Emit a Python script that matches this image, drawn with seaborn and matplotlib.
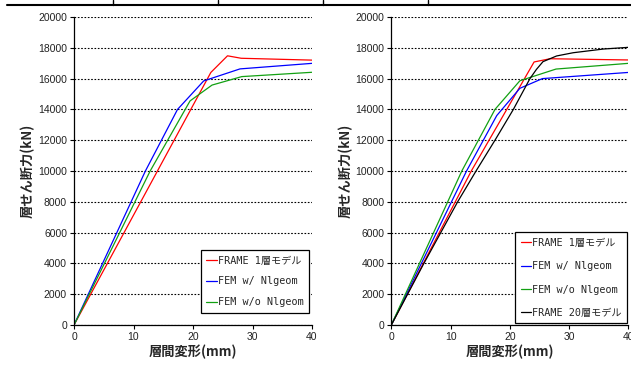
import pandas as pd
import matplotlib.pyplot as plt
import seaborn as sns
from matplotlib.lines import Line2D

# left panel
left_frame1_x = [0, 23.0, 25.8, 28.1, 40]
left_frame1_y = [0, 16400, 17480, 17320, 17200]
left_nl_x = [0, 12.0, 17.4, 21.8, 27.9, 40]
left_nl_y = [0, 10000, 14000, 15850, 16630, 16990]
left_wo_x = [0, 12.8, 19.5, 23.2, 28.2, 40]
left_wo_y = [0, 10000, 14550, 15580, 16130, 16410]

# right panel
right_frame1_x = [0, 13.5, 24.1, 26.8, 40]
right_frame1_y = [0, 10000, 17080, 17290, 17210]
right_nl_x = [0, 12.7, 17.8, 21.7, 25.5, 40]
right_nl_y = [0, 10000, 13600, 15370, 16000, 16400]
right_wo_x = [0, 11.9, 17.5, 21.7, 27.8, 40]
right_wo_y = [0, 10000, 14000, 15860, 16620, 16990]
right_frame20_x = [0, 5.5, 11.2, 14.3, 17.5, 20.6, 23.4, 24.5, 25.6, 27.9, 30.7, 35.8, 40]
right_frame20_y = [0, 4000, 8000, 10000, 12000, 14000, 16000, 16600, 17100, 17470, 17680, 17920, 18030]

labels = ['FRAME 1層モデル', 'FEM w/ Nlgeom', 'FEM w/o Nlgeom', 'FRAME 20層モデル']
colors = ['#ff0000', '#0000ff', '#12a012', '#000000']
x_ticks = [0, 10, 20, 30, 40]
y_ticks = list(range(0, 20001, 2000))


def make_df(series):
    rows = []
    for lab, xs, ys in series:
        for x, y in zip(xs, ys):
            rows.append({'series': lab, 'disp': x, 'shear': y})
    return pd.DataFrame(rows)


df_left = make_df([(labels[0], left_frame1_x, left_frame1_y),
                   (labels[1], left_nl_x, left_nl_y),
                   (labels[2], left_wo_x, left_wo_y)])
df_right = make_df([(labels[0], right_frame1_x, right_frame1_y),
                    (labels[1], right_nl_x, right_nl_y),
                    (labels[2], right_wo_x, right_wo_y),
                    (labels[3], right_frame20_x, right_frame20_y)])

sns.set_style('ticks')
plt.rcParams['font.family'] = ['Liberation Sans', 'Noto Sans CJK JP', 'DejaVu Sans']
cjk = ['Noto Sans CJK JP', 'DejaVu Sans']
legfont = ['DejaVu Sans Mono', 'Noto Sans CJK JP']

fig = plt.figure(figsize=(6.31, 3.65), dpi=100)
ax1 = fig.add_axes([74 / 631, 40 / 365, 238 / 631, 308 / 365])
ax2 = fig.add_axes([391.3 / 631, 40 / 365, 237 / 631, 308 / 365])

panels = [(ax1, df_left, 3, (1.0, 0.03), 1.05, 0.3),
          (ax2, df_right, 4, (1.0, 0.0), 1.32, 0.15)]
for ax, df, n, leg_anchor, lspace, bpad in panels:
    sns.lineplot(data=df, x='disp', y='shear', hue='series', hue_order=labels[:n],
                 palette=colors[:n], sort=False, estimator=None, linewidth=0.9, ax=ax)
    ax.set_xlim(0, 40)
    ax.set_ylim(0, 20000)
    ax.set_xticks(x_ticks)
    ax.set_yticks(y_ticks)
    ax.yaxis.grid(True, linestyle=(0, (1.5, 1.5)), color='black', linewidth=0.8)
    ax.set_axisbelow(True)
    for s in ['top', 'right']:
        ax.spines[s].set_visible(False)
    for s in ['left', 'bottom']:
        ax.spines[s].set_color('black')
        ax.spines[s].set_linewidth(0.9)
    ax.tick_params(axis='both', labelsize=7.5, length=3, width=0.8, colors='black',
                   labelcolor='#222222', pad=2)
    ax.set_xlabel('層間変形(mm)', fontsize=9.5, fontweight='bold', family=cjk, labelpad=2)
    ax.set_ylabel('層せん断力(kN)', fontsize=9.5, fontweight='bold', family=cjk, labelpad=2)
    handles = [Line2D([0], [0], color=c, lw=0.9) for c in colors[:n]]
    leg = ax.legend(handles, labels[:n], loc='lower right', bbox_to_anchor=leg_anchor,
                    frameon=True, fancybox=False, edgecolor='black', framealpha=1,
                    prop={'family': legfont, 'size': 7.3},
                    handlelength=1.0, handletextpad=0.1, labelspacing=lspace,
                    borderpad=0.55, borderaxespad=bpad)
    leg.get_frame().set_linewidth(0.9)

# table border strip at the top
fig.add_artist(Line2D([7 / 631, 1], [1 - 4.5 / 365, 1 - 4.5 / 365], color='black', lw=1.5,
                      transform=fig.transFigure))
for xp in [113.3, 218.3, 323.3, 428.3]:
    fig.add_artist(Line2D([xp / 631, xp / 631], [1 - 4.5 / 365, 1], color='black', lw=1.0,
                          transform=fig.transFigure))

fig.savefig('out.png', dpi=100)
